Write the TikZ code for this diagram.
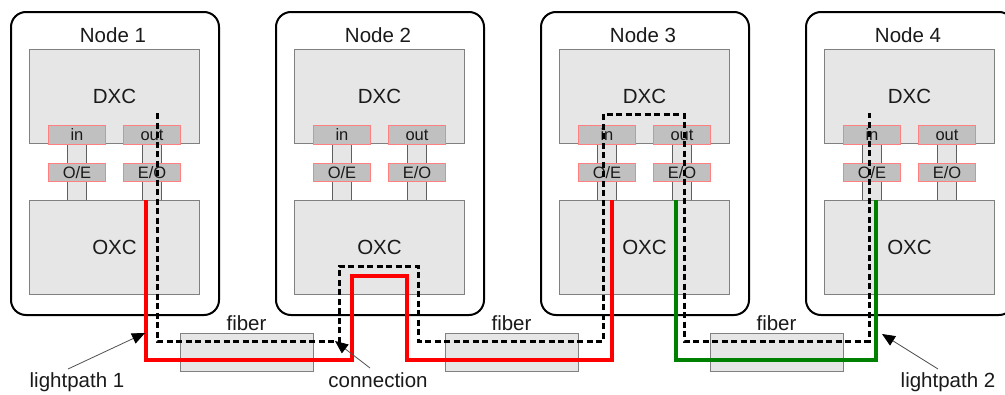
\documentclass[tikz,border=0pt]{standalone}
\usepackage{fontspec}
\setmainfont{Liberation Sans}
\usetikzlibrary{arrows.meta}
\definecolor{boxgray}{HTML}{E6E6E6}
\definecolor{portgray}{HTML}{C0C0C0}
\definecolor{portred}{HTML}{FF8080}
\definecolor{edgegray}{HTML}{808080}
\definecolor{bargray}{HTML}{606060}
\definecolor{lpgreen}{HTML}{008000}
\definecolor{lpred}{HTML}{FF0000}
\definecolor{calloutgray}{HTML}{505050}
\definecolor{textcol}{HTML}{1A1A1A}
\begin{document}
\begin{tikzpicture}[x=1pt,y=-1pt,
  nodebox/.style={draw=black,line width=2pt,rounded corners=15pt,fill=white,minimum width=208pt,minimum height=303pt,anchor=north west,inner sep=0pt},
  xcbox/.style={draw=edgegray,fill=boxgray,line width=1pt,minimum width=170pt,minimum height=94pt,anchor=north west,inner sep=0pt,font=\fontsize{20.5}{24}\selectfont,text=textcol},
  portbox/.style={draw=portred,fill=portgray,line width=1pt,minimum width=57pt,minimum height=18.5pt,anchor=north west,inner sep=0pt,font=\fontsize{16.5}{18}\selectfont,text=textcol},
  barbox/.style={draw=bargray,fill=boxgray,line width=0.8pt,minimum width=19pt,minimum height=57pt,anchor=north west,inner sep=0pt},
  fiberbox/.style={draw=edgegray,fill=boxgray,line width=1pt,minimum width=133pt,minimum height=38pt,anchor=north west,inner sep=0pt},
  bigtext/.style={font=\fontsize{20.5}{24}\selectfont,anchor=base,inner sep=0pt,text=textcol},
  lpone/.style={draw=lpred,line width=3.3pt,line join=miter},
  lptwo/.style={draw=lpgreen,line width=3.3pt,line join=miter},
  connpath/.style={draw=black,line width=3pt,dash pattern=on 6pt off 3.5pt,line join=miter},
  callout/.style={draw=calloutgray,line width=0.8pt,-{Triangle[length=13pt,width=11pt,color=black]}}
]
\useasboundingbox (0,0) rectangle (1005,394);
\clip (0,0) rectangle (1005,394);

% fibers
\node[fiberbox] (fib1) at (180,333) {};
\node[fiberbox] (fib2) at (445,333) {};
\node[fiberbox] (fib3) at (710,333) {};
\node[bigtext] (fibl1) at (246.5,330) {fiber};
\node[bigtext] (fibl2) at (511.5,330) {fiber};
\node[bigtext] (fibl3) at (776.5,330) {fiber};

% network nodes
\foreach \i in {1,2,3,4} {
  \pgfmathsetmacro{\ox}{10+265*(\i-1)}
  \node[nodebox] (node\i) at (\ox,11) {};
  \node[bigtext] (title\i) at (\ox+103,42) {Node \i};
  \node[barbox] (inbar\i) at (\ox+57,143) {};
  \node[barbox] (outbar\i) at (\ox+132,143) {};
  \node[xcbox] (dxc\i) at (\ox+19,49) {DXC};
  \node[xcbox] (oxc\i) at (\ox+19,200) {OXC};
  \node[portbox] (in\i) at (\ox+38,125) {in};
  \node[portbox] (out\i) at (\ox+113,125) {out};
  \node[portbox] (oe\i) at (\ox+38,162.5) {O/E};
  \node[portbox] (eo\i) at (\ox+113,162.5) {E/O};
}

% path coordinates
\coordinate (r0) at (146,200);
\coordinate (r1) at (146,360);
\coordinate (r2) at (352,360);
\coordinate (r3) at (352,276);
\coordinate (r4) at (407,276);
\coordinate (r5) at (407,360);
\coordinate (r6) at (612,360);
\coordinate (r7) at (612,200);

\coordinate (g0) at (676,200);
\coordinate (g1) at (676,360);
\coordinate (g2) at (876,360);
\coordinate (g3) at (876,200);

\coordinate (d0) at (157,113);
\coordinate (d1) at (157,341);
\coordinate (d2) at (339,341);
\coordinate (d3) at (339,266);
\coordinate (d4) at (418,266);
\coordinate (d5) at (418,341);
\coordinate (d6) at (603,341);
\coordinate (d7) at (603,114);
\coordinate (d8) at (684,114);
\coordinate (d9) at (684,341);
\coordinate (d10) at (869,341);
\coordinate (d11) at (869,113);

\draw[lpone] (r0) -- (r1) -- (r2) -- (r3) -- (r4) -- (r5) -- (r6) -- (r7);
\draw[lptwo] (g0) -- (g1) -- (g2) -- (g3);
\draw[connpath] (d0) -- (d1) -- (d2) -- (d3) -- (d4) -- (d5) -- (d6) -- (d7) -- (d8) -- (d9) -- (d10) -- (d11);

% callouts
\node[bigtext] (lab1) at (77,387) {lightpath 1};
\node[bigtext] (lab2) at (378,387) {connection};
\node[bigtext] (lab3) at (948,387) {lightpath 2};
\coordinate (c1s) at (68,369);
\coordinate (c1t) at (145,333);
\coordinate (c2s) at (370,368);
\coordinate (c2t) at (335,341);
\coordinate (c3s) at (938,369);
\coordinate (c3t) at (882,334);
\draw[callout] (c1s) -- (c1t);
\draw[callout] (c2s) -- (c2t);
\draw[callout] (c3s) -- (c3t);
\end{tikzpicture}
\end{document}
